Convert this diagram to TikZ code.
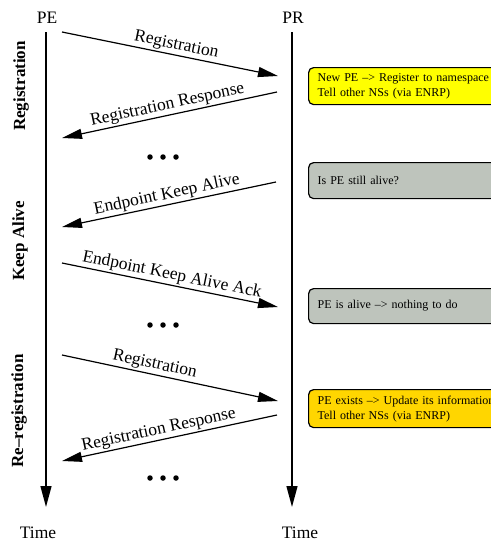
\documentclass[tikz,border=0pt]{standalone}
\usepackage{fontspec}
\setmainfont{Liberation Serif}
\usetikzlibrary{arrows.meta}
\definecolor{noteyellow}{RGB}{255,255,0}
\definecolor{notegray}{RGB}{190,196,188}
\definecolor{notegold}{RGB}{255,214,0}
\begin{document}
\begin{tikzpicture}[x=1pt,y=-1pt,
  lifeline/.style={line width=1.4pt, -{Triangle[length=21pt,width=11pt]}},
  msg/.style={line width=1.2pt, -{Triangle[length=20pt,width=10pt]}},
  msglabel/.style={font=\fontsize{17.5}{20}\selectfont, sloped, above, inner sep=1.5pt},
  actor/.style={font=\fontsize{17.5}{20}\selectfont},
  phase/.style={font=\fontsize{17}{20}\selectfont\bfseries, rotate=90},
  note/.style={draw=black, line width=1.2pt, rounded corners=5pt,
    anchor=north west, minimum width=220pt, text width=202pt, inner xsep=9pt,
    align=left, font=\fontsize{12}{15}\selectfont},
  dot/.style={circle, fill=black, inner sep=0pt, minimum size=5.5pt}
]
\clip (0,0) rectangle (491,542);

% actors and time axes
\node[actor] (PE) at (47,18) {PE};
\node[actor] (PR) at (293,18) {PR};
\node[actor] (timePE) at (38,533) {Time};
\node[actor] (timePR) at (300,533) {Time};
\coordinate (pe0) at (46,32);
\coordinate (pe1) at (46,507);
\coordinate (pr0) at (292,32);
\coordinate (pr1) at (292,507);
\draw[lifeline] (pe0) -- (pe1);
\draw[lifeline] (pr0) -- (pr1);

% phase labels
\node[phase] (ph1) at (21,86) {Registration};
\node[phase] (ph2) at (20,241) {Keep Alive};
\node[phase] (ph3) at (19,411) {Re–registration};

% message end points
\coordinate (a1) at (62,32);   \coordinate (b1) at (278,76);
\coordinate (a2) at (277,92);  \coordinate (b2) at (62,138);
\coordinate (a3) at (276,182); \coordinate (b3) at (62,227);
\coordinate (a4) at (62,263);  \coordinate (b4) at (278,307);
\coordinate (a5) at (62,355);  \coordinate (b5) at (278,401);
\coordinate (a6) at (277,415); \coordinate (b6) at (62,461);

% messages
\draw[msg] (a1) -- node[msglabel, pos=0.52] {Registration} (b1);
\draw[msg] (a2) -- node[msglabel, pos=0.5] {Registration Response} (b2);
\draw[msg] (a3) -- node[msglabel, pos=0.5] {Endpoint Keep Alive} (b3);
\draw[msg] (a4) -- node[msglabel, pos=0.5] {Endpoint Keep Alive Ack} (b4);
\draw[msg] (a5) -- node[msglabel, pos=0.42] {Registration} (b5);
\draw[msg] (a6) -- node[msglabel, pos=0.54] {Registration Response} (b6);

% continuation marks
\foreach \y/\n in {157/1,325/2,478/3}{
  \node[dot] (d\n a) at (150,\y) {};
  \node[dot] (d\n b) at (163,\y) {};
  \node[dot] (d\n c) at (176,\y) {};
}

% registrar notes
\node[note, fill=noteyellow, minimum height=37pt] (n1) at (308,67)
  {New PE –> Register to namespace\\Tell other NSs (via ENRP)};
\node[note, fill=notegray, minimum height=36pt] (n2) at (308,162)
  {Is PE still alive?};
\node[note, fill=notegray, minimum height=35pt] (n3) at (308,288)
  {PE is alive –> nothing to do};
\node[note, fill=notegold, minimum height=38pt] (n4) at (308,389)
  {PE exists –> Update its information\\Tell other NSs (via ENRP)};
\end{tikzpicture}
\end{document}
